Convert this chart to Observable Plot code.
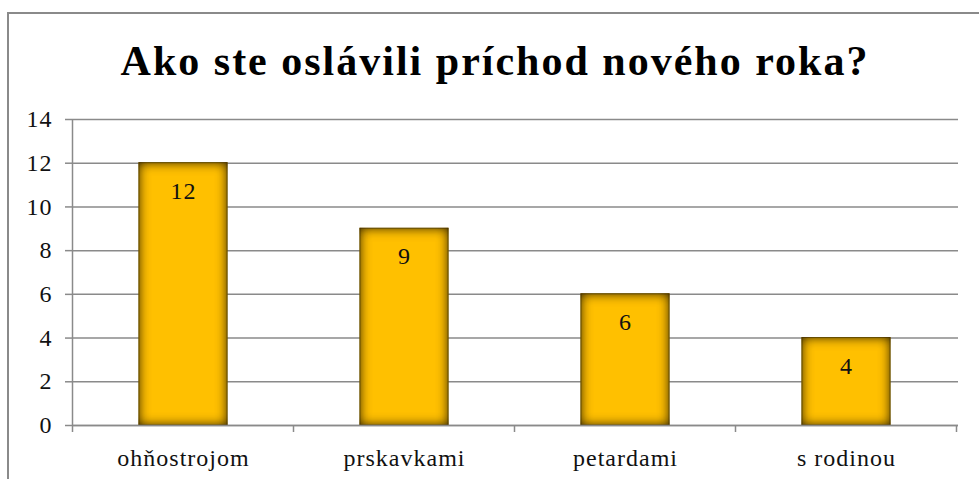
<!DOCTYPE html>
<html><head><meta charset="utf-8">
<script src="https://cdn.jsdelivr.net/npm/d3@7"></script>
<script src="https://cdn.jsdelivr.net/npm/@observablehq/plot@0.6"></script>
<style>
body{margin:0;background:#fff;}
#wrap{position:relative;width:979px;height:479px;overflow:hidden;background:#fff;}
#frame{position:absolute;left:7px;top:12px;width:1000px;height:500px;border-left:2px solid #8a8a8a;border-top:2px solid #8a8a8a;}
#title{position:absolute;left:0;top:40px;width:990px;text-align:center;font:bold 42px "Liberation Serif",serif;line-height:42px;letter-spacing:2px;color:#000;white-space:nowrap;}
#chart{position:absolute;left:0;top:100px;}
</style></head>
<body><div id="wrap"><div id="frame"></div><div id="title">Ako ste oslávili príchod nového roka?</div><div id="chart"></div></div>
<script>
const categories = ["ohňostrojom", "prskavkami", "petardami", "s rodinou"];
const values = [12, 9, 6, 4];
const yTicks = [0, 2, 4, 6, 8, 10, 12, 14];

const data = categories.map((c, i) => ({category: c, value: values[i]}));
const gridColor = "#8a8a8a";

function frameMark(index, scales, vals, dims) {
  const {x, y} = scales;
  const g = d3.create("svg:g").attr("stroke", gridColor).attr("stroke-width", 1.5).attr("fill", "none");
  const step = x(categories[1]) - x(categories[0]);
  const bw = typeof x.bandwidth === "function" ? x.bandwidth() : step * 0.4;
  const gap = (step - bw) / 2;
  const y0 = y(0);
  const bounds = categories.map(c => x(c) - gap).concat([x(categories[categories.length - 1]) + bw + gap]);
  bounds.forEach(b => g.append("line").attr("x1", b).attr("x2", b).attr("y1", y0).attr("y2", y0 + 7));
  g.append("line").attr("x1", bounds[0]).attr("x2", bounds[0]).attr("y1", y(yTicks[yTicks.length - 1])).attr("y2", y0);
  return g.node();
}

const chart = Plot.plot({
  width: 979,
  height: 379,
  marginTop: 19,
  marginBottom: 54,
  marginLeft: 72,
  marginRight: 21,
  style: {fontFamily: "'Liberation Serif', serif", fontSize: "24px", color: "#111", background: "transparent", overflow: "visible", letterSpacing: "1px"},
  x: {domain: categories, paddingInner: 0.6, paddingOuter: 0.3, label: null},
  y: {domain: [0, 14], label: null},
  marks: [
    Plot.gridY(yTicks, {stroke: gridColor, strokeOpacity: 1, strokeWidth: 1.5}),
    Plot.barY(data, {x: "category", y: "value", fill: "#ffc000", stroke: "#a07a00", strokeWidth: 1}),
    frameMark,
    Plot.axisY(yTicks, {tickSize: 7, tickPadding: 13, stroke: gridColor, strokeWidth: 1.5, strokeOpacity: 1, fontSize: 24, label: null}),
    Plot.ruleY([0], {stroke: gridColor, strokeWidth: 1.5}),
    Plot.text(data, {x: "category", y: "value", text: d => String(d.value), dy: 28, lineAnchor: "middle", fontSize: 24, fill: "#111"}),
    Plot.axisX({tickSize: 0, tickPadding: 23, fontSize: 24, label: null})
  ]
});

document.getElementById("chart").appendChild(chart);

const svg = d3.select(chart);
const defs = svg.insert("defs", ":first-child");
const f = defs.append("filter").attr("id", "innerShadow").attr("x", "-20%").attr("y", "-20%").attr("width", "140%").attr("height", "140%");
f.append("feFlood").attr("flood-color", "#3a2a00").attr("result", "flood");
f.append("feComposite").attr("in", "flood").attr("in2", "SourceAlpha").attr("operator", "out").attr("result", "outside");
f.append("feGaussianBlur").attr("in", "outside").attr("stdDeviation", 6).attr("result", "blur");
f.append("feComposite").attr("in", "blur").attr("in2", "SourceAlpha").attr("operator", "in").attr("result", "shadow");
const m = f.append("feMerge");
m.append("feMergeNode").attr("in", "SourceGraphic");
m.append("feMergeNode").attr("in", "shadow");
m.append("feMergeNode").attr("in", "shadow");
svg.selectAll("g[aria-label='bar'] rect").attr("filter", "url(#innerShadow)");
</script>
</body></html>
